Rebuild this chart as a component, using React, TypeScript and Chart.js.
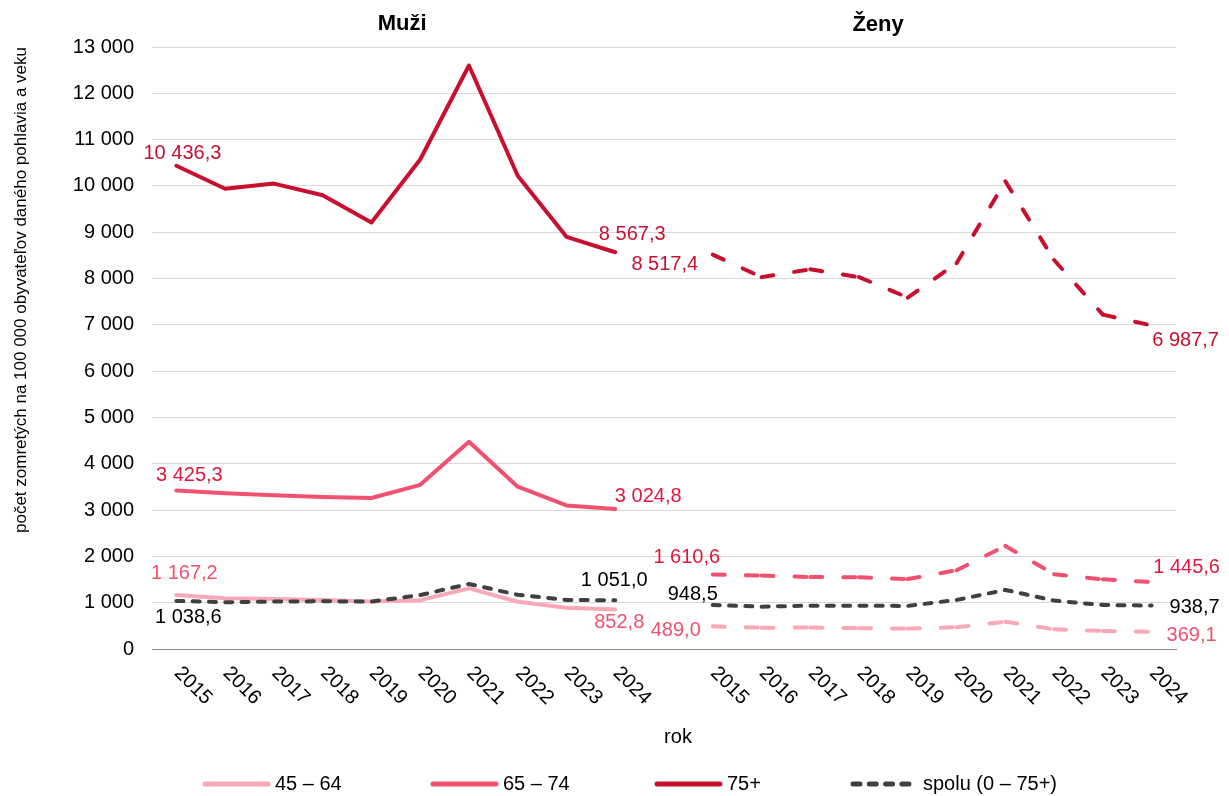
import React, { useEffect, useRef } from 'react';
import { Chart, registerables } from 'chart.js';

Chart.register(...registerables);

// ---------- data ----------
const years = ['2015', '2016', '2017', '2018', '2019', '2020', '2021', '2022', '2023', '2024'];
const categories = [...years, '', ...years];

const groupLabels = ['45 – 64', '65 – 74', '75+', 'spolu (0 – 75+)'];
const panelTitles = ['Muži', 'Ženy'];
const xTitle = 'rok';
const yTitle = 'počet zomretých na 100 000 obyvateľov daného pohlavia a veku';

const men45_64 = [1167.2, 1095, 1080, 1060, 1025, 1055, 1310, 1020, 890, 852.8];
const men65_74 = [3425.3, 3365, 3320, 3285, 3260, 3545, 4475, 3505, 3100, 3024.8];
const men75 = [10436.3, 9940, 10050, 9800, 9210, 10570, 12600, 10220, 8900, 8567.3];
const menTotal = [1038.6, 1010, 1025, 1030, 1025, 1165, 1405, 1170, 1060, 1051.0];

const women45_64 = [489.0, 460, 465, 450, 440, 470, 590, 425, 390, 369.1];
const women65_74 = [1610.6, 1585, 1555, 1550, 1510, 1700, 2225, 1615, 1505, 1445.6];
const women75 = [8517.4, 8030, 8200, 8030, 7590, 8330, 10100, 8400, 7220, 6987.7];
const womenTotal = [948.5, 915, 935, 935, 930, 1060, 1275, 1045, 950, 938.7];

const yMax = 13000;
const yStep = 1000;

// ---------- styling ----------
const FONT = 'Arial, "Liberation Sans", sans-serif';
const C45 = '#F9A8B7';
const C65 = '#F0516F';
const C75 = '#C8102E';
const CTOT = '#404040';
const L45 = '#F0516F';
const L65 = '#E3173E';
const L75 = '#C8102E';
const LTOT = '#000000';

const LONG_DASH = [12, 21];
const LONG_PERIOD = 33;
const SHORT_DASH = [7, 9.3];

const gap = Array(years.length + 1).fill(null);
const asMen = (a: number[]) => [...a, ...gap];
const asWomen = (a: number[]) => [...gap, ...a];

function fmtVal(v: number): string {
  const [i, d] = v.toFixed(1).split('.');
  return i.replace(/\B(?=(\d{3})+(?!\d))/g, ' ') + ',' + d;
}
function fmtInt(v: number): string {
  return String(Math.round(v)).replace(/\B(?=(\d{3})+(?!\d))/g, ' ');
}

export default function App() {
  const ref = useRef<HTMLCanvasElement | null>(null);

  useEffect(() => {
    if (!ref.current) return;
    document.body.style.margin = '0';

    const base = (data: (number | null)[], color: string, order: number) => ({
      data,
      borderColor: color,
      backgroundColor: color,
      borderWidth: 4,
      pointRadius: 0,
      pointHoverRadius: 0,
      borderCapStyle: 'round' as const,
      borderJoinStyle: 'round' as const,
      tension: 0,
      fill: false,
      spanGaps: false,
      order,
    });
    const longDash = {
      borderDash: LONG_DASH,
      segment: {
        borderDash: () => LONG_DASH,
        borderDashOffset: (ctx: any) => ctx.p0DataIndex * LONG_PERIOD,
      },
    };

    const datasets: any[] = [
      { label: groupLabels[0], ...base(asMen(men45_64), C45, 3) },
      { label: groupLabels[1], ...base(asMen(men65_74), C65, 2) },
      { label: groupLabels[2], ...base(asMen(men75), C75, 1) },
      { label: groupLabels[3], ...base(asMen(menTotal), CTOT, 0), borderDash: SHORT_DASH },
      { label: groupLabels[0] + ' Ž', ...base(asWomen(women45_64), C45, 3), ...longDash },
      { label: groupLabels[1] + ' Ž', ...base(asWomen(women65_74), C65, 2), ...longDash },
      { label: groupLabels[2] + ' Ž', ...base(asWomen(women75), C75, 1), ...longDash },
      { label: groupLabels[3] + ' Ž', ...base(asWomen(womenTotal), CTOT, 0), borderDash: SHORT_DASH },
    ];

    const W = years.length + 1;
    const labelSpecs = [
      { ds: 2, idx: 0, dx: 6, dy: -12, color: L75 },
      { ds: 2, idx: 9, dx: 17, dy: -18, color: L75 },
      { ds: 1, idx: 0, dx: 13, dy: -15, color: L65 },
      { ds: 1, idx: 9, dx: 33, dy: -12, color: L65 },
      { ds: 0, idx: 0, dx: 8, dy: -21, color: L45 },
      { ds: 0, idx: 9, dx: 4, dy: 13, color: L45 },
      { ds: 3, idx: 0, dx: 12, dy: 17, color: LTOT },
      { ds: 3, idx: 9, dx: -1, dy: -20, color: LTOT },
      { ds: 6, idx: W, dx: -48, dy: 10, color: L75 },
      { ds: 6, idx: W + 9, dx: 34, dy: 15, color: L75 },
      { ds: 5, idx: W, dx: -26, dy: -17, color: L65 },
      { ds: 5, idx: W + 9, dx: 35, dy: -15, color: L65 },
      { ds: 7, idx: W, dx: -20, dy: -11, color: LTOT },
      { ds: 7, idx: W + 9, dx: 43, dy: 2, color: LTOT },
      { ds: 4, idx: W, dx: -37, dy: 4, color: L45 },
      { ds: 4, idx: W + 9, dx: 40, dy: 4, color: L45 },
    ];

    const overlay = {
      id: 'overlay',
      afterDraw(chart: any) {
        const ctx = chart.ctx as CanvasRenderingContext2D;
        const xs = chart.scales.x;
        ctx.save();

        // data labels
        ctx.font = `20px ${FONT}`;
        ctx.textAlign = 'center';
        ctx.textBaseline = 'middle';
        for (const s of labelSpecs) {
          const meta = chart.getDatasetMeta(s.ds);
          const pt = meta.data[s.idx];
          const v = chart.data.datasets[s.ds].data[s.idx];
          if (!pt || v == null) continue;
          ctx.fillStyle = s.color;
          ctx.fillText(fmtVal(v), pt.x + s.dx, pt.y + s.dy);
        }

        // x tick labels, rotated 45° clockwise
        ctx.fillStyle = '#000';
        ctx.textAlign = 'left';
        ctx.textBaseline = 'middle';
        categories.forEach((c, i) => {
          if (!c) return;
          const x = xs.getPixelForValue(i) + 1;
          ctx.save();
          ctx.translate(x, chart.chartArea.bottom + 21);
          ctx.rotate(Math.PI / 4);
          ctx.fillText(c, 0, 0);
          ctx.restore();
        });

        // panel titles
        ctx.font = `bold 22px ${FONT}`;
        ctx.textAlign = 'center';
        ctx.fillText(panelTitles[0], xs.getPixelForValue(4.63), 24);
        ctx.fillText(panelTitles[1], xs.getPixelForValue(14.39), 25);

        // x title
        ctx.font = `20px ${FONT}`;
        ctx.fillText(xTitle, 678, 737);

        // y title
        ctx.save();
        ctx.font = `17px ${FONT}`;
        ctx.translate(21, 290);
        ctx.rotate(-Math.PI / 2);
        ctx.fillText(yTitle, 0, 0);
        ctx.restore();

        // legend
        const legendX = [205, 433, 657, 853];
        const legendColors = [C45, C65, C75, CTOT];
        const ly = 784;
        ctx.font = `20px ${FONT}`;
        ctx.textAlign = 'left';
        groupLabels.forEach((lab, i) => {
          const x0 = legendX[i];
          ctx.beginPath();
          ctx.strokeStyle = legendColors[i];
          ctx.lineWidth = 5;
          ctx.lineCap = 'round';
          ctx.setLineDash(i === 3 ? [7, 9.3] : []);
          ctx.moveTo(x0, ly);
          ctx.lineTo(x0 + 63, ly);
          ctx.stroke();
          ctx.setLineDash([]);
          ctx.fillStyle = '#000';
          ctx.fillText(lab, x0 + 70, ly);
        });

        ctx.restore();
      },
    };

    const chart = new Chart(ref.current, {
      type: 'line',
      data: { labels: categories, datasets },
      options: {
        animation: false,
        responsive: false,
        maintainAspectRatio: false,
        layout: { padding: { left: 0, right: 53, top: 47, bottom: 0 } },
        plugins: {
          legend: { display: false },
          tooltip: { enabled: false },
          title: { display: false },
        },
        scales: {
          x: {
            type: 'category',
            offset: true,
            grid: { display: false, drawTicks: false },
            border: { display: true, color: '#8C8C8C', width: 1 },
            ticks: { display: false },
            afterFit: (scale: any) => {
              scale.height = 147;
            },
          },
          y: {
            min: 0,
            max: yMax,
            grid: { color: '#D9D9D9', lineWidth: 1, drawTicks: false },
            border: { display: false },
            ticks: {
              stepSize: yStep,
              padding: 18,
              color: '#000',
              font: { family: FONT, size: 20 },
              callback: (v: any) => fmtInt(Number(v)),
            },
            afterFit: (scale: any) => {
              scale.width = 152;
            },
          },
        },
      },
      plugins: [overlay],
    } as any);

    return () => chart.destroy();
  }, []);

  return (
    <div style={{ position: 'absolute', left: 0, top: 0, width: 1229, height: 796 }}>
      <canvas ref={ref} width={1229} height={796} style={{ width: 1229, height: 796, display: 'block' }} />
    </div>
  );
}
